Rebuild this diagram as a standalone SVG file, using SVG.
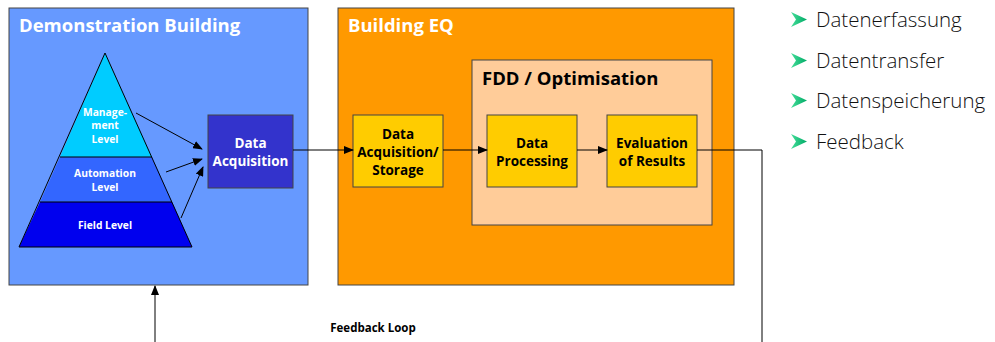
<svg xmlns="http://www.w3.org/2000/svg" width="995" height="342" viewBox="0 0 995 342">
<defs>
<marker id="ah" markerWidth="10" markerHeight="8" refX="9" refY="4" orient="auto" markerUnits="userSpaceOnUse">
<path d="M0,0 L10,4 L0,8 Z" fill="#000"/>
</marker>
<linearGradient id="bg" x1="0" y1="0" x2="1" y2="0">
<stop offset="0" stop-color="#44dd99"/><stop offset="1" stop-color="#00aa66"/>
</linearGradient>
</defs>
<style>
.t{font-family:"Open Sans","Liberation Sans",sans-serif;font-weight:bold}
.h{font-size:18.5px;fill:#fff}
.b{font-size:13.5px;fill:#000;text-anchor:middle}
.p{font-size:10.3px;fill:#fff;text-anchor:middle}
.box{stroke:#444;stroke-width:1}
.c{stroke:#000;stroke-width:1;fill:none}
.l{font-family:"Open Sans","Liberation Sans",sans-serif;font-weight:300;font-size:20.5px;fill:#111}
</style>
<rect width="995" height="342" fill="#fff"/>
<g id="demo-building">
<rect class="box" x="9" y="8" width="299" height="277" fill="#6699ff"/>
<text class="t h" x="19" y="32">Demonstration Building</text>
</g>
<g id="pyramid">
<polygon points="105,53 152,157 60,157" fill="#00ccff"/>
<polygon points="60,157 152,157 172,202 40,202" fill="#3366ff"/>
<polygon points="40,202 172,202 192,247 19,247" fill="#0000ee"/>
<polygon points="105,53 192,247 19,247" fill="none" stroke="#000" stroke-width="1"/>
<line x1="60" y1="157" x2="152" y2="157" stroke="#000"/>
<line x1="40" y1="202" x2="172" y2="202" stroke="#000"/>
<text class="t p" x="105" y="116">Manage-</text>
<text class="t p" x="105" y="129">ment</text>
<text class="t p" x="105" y="143">Level</text>
<text class="t p" x="105" y="177">Automation</text>
<text class="t p" x="105" y="191">Level</text>
<text class="t p" x="105" y="229">Field Level</text>
</g>
<g id="data-acquisition">
<rect class="box" x="208" y="115" width="85" height="73" fill="#3333cc"/>
<text class="t b" x="250.5" y="148" style="fill:#fff">Data</text>
<text class="t b" x="250.5" y="166" style="fill:#fff">Acquisition</text>
</g>
<g id="building-eq">
<rect class="box" x="338" y="8" width="396" height="277" fill="#ff9900"/>
<text class="t h" x="348" y="32">Building EQ</text>
</g>
<g id="fdd-optimisation">
<rect class="box" x="472" y="60" width="240" height="165" fill="#ffcc99"/>
<text class="t" x="482" y="85" style="font-size:18.5px;fill:#000">FDD / Optimisation</text>
</g>
<g id="data-acquisition-storage">
<rect class="box" x="353" y="115" width="90" height="72" fill="#ffcc00"/>
<text class="t b" x="398" y="139">Data</text>
<text class="t b" x="398" y="157">Acquisition/</text>
<text class="t b" x="398" y="175">Storage</text>
</g>
<g id="data-processing">
<rect class="box" x="487" y="115" width="90" height="72" fill="#ffcc00"/>
<text class="t b" x="532" y="148">Data</text>
<text class="t b" x="532" y="166">Processing</text>
</g>
<g id="evaluation">
<rect class="box" x="607" y="115" width="90" height="72" fill="#ffcc00"/>
<text class="t b" x="652" y="148">Evaluation</text>
<text class="t b" x="652" y="166">of Results</text>
</g>
<g id="connectors">
<line class="c" x1="136" y1="113" x2="202" y2="149" marker-end="url(#ah)"/>
<line class="c" x1="166" y1="172" x2="202" y2="159" marker-end="url(#ah)"/>
<line class="c" x1="181" y1="218" x2="203" y2="167" marker-end="url(#ah)"/>
<line class="c" x1="293" y1="150" x2="353" y2="150" marker-end="url(#ah)"/>
<line class="c" x1="443" y1="150" x2="487" y2="150" marker-end="url(#ah)"/>
<line class="c" x1="577" y1="150" x2="607" y2="150" marker-end="url(#ah)"/>
<polyline class="c" points="697,150 762,150 762,342"/>
<line class="c" x1="155" y1="342" x2="155" y2="286" marker-end="url(#ah)"/>
<text class="t" x="373" y="332" style="font-size:11.5px;fill:#000;text-anchor:middle">Feedback Loop</text>
</g>
<g id="bullets">
<path d="M791,12 L807,19.5 L791,27 L796,19.5 Z" fill="url(#bg)"/>
<path d="M791,53 L807,60.5 L791,68 L796,60.5 Z" fill="url(#bg)"/>
<path d="M791,93 L807,100.5 L791,108 L796,100.5 Z" fill="url(#bg)"/>
<path d="M791,134 L807,141.5 L791,149 L796,141.5 Z" fill="url(#bg)"/>
<text class="l" x="816" y="27">Datenerfassung</text>
<text class="l" x="816" y="68">Datentransfer</text>
<text class="l" x="816" y="108">Datenspeicherung</text>
<text class="l" x="816" y="149">Feedback</text>
</g>
</svg>
